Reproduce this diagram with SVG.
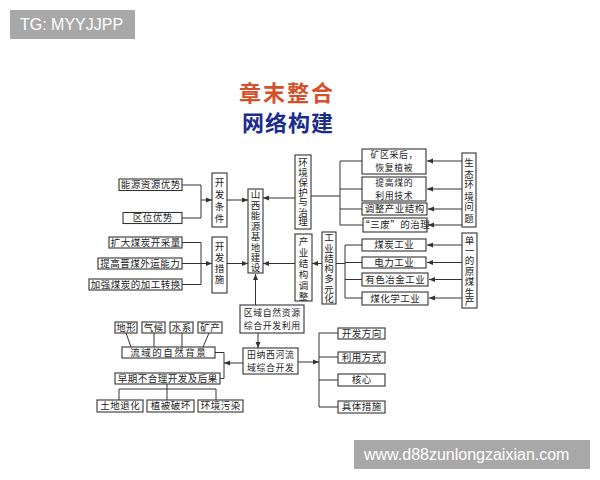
<svg xmlns="http://www.w3.org/2000/svg" width="600" height="480" viewBox="0 0 600 480">
<style>
.b{fill:#fff;stroke:#333;stroke-width:1.1}
.t{font-family:"Noto Sans CJK SC","Noto Sans",sans-serif;font-size:9.5px;fill:#222;text-anchor:middle;letter-spacing:0.5px}
.t2{font-family:"Noto Sans CJK SC","Noto Sans",sans-serif;font-size:8.9px;fill:#222;text-anchor:middle;letter-spacing:0.6px}
.v{font-family:"Noto Sans CJK SC","Noto Sans",sans-serif;font-size:9.5px;fill:#222;text-anchor:middle;writing-mode:vertical-rl}
.c{fill:none;stroke:#333;stroke-width:1}
.a{fill:none;stroke:#333;stroke-width:1;marker-end:url(#ah)}
.wm{fill:#a8a8a8}
.wt{font-family:"Liberation Sans",Arial,sans-serif;font-size:16px;fill:#fff}
</style>
<defs>
<marker id="ah" viewBox="0 0 6 6" refX="6" refY="3" markerWidth="6" markerHeight="6" orient="auto" markerUnits="userSpaceOnUse">
<path d="M0,0.5 L6,3 L0,5.5 Z" fill="#333"/>
</marker>
</defs>
<rect width="600" height="480" fill="#fff"/>
<g id="wm1"><rect class="wm" x="10" y="10" width="125" height="29"/><text class="wt" x="20" y="30">TG: MYYJJPP</text></g>
<g id="wm2"><rect class="wm" x="354" y="440" width="236" height="29"/><text class="wt" x="364" y="460">www.d88zunlongzaixian.com</text></g>
<g id="title">
<text x="287" y="101" style="font-family:'Noto Sans CJK SC',sans-serif;font-size:22px;font-weight:700;fill:#d4502a;text-anchor:middle;letter-spacing:2px">章末整合</text>
<text x="288" y="131" style="font-family:'Noto Sans CJK SC',sans-serif;font-size:22px;font-weight:700;fill:#1c2c8c;text-anchor:middle;letter-spacing:1px">网络构建</text>
</g>
<g id="connectors">
<path class="c" d="M182,185 H201 V218 H182"/>
<path class="a" d="M201,200 H212"/>
<path class="a" d="M227,200 H248"/>
<path class="c" d="M182,242.5 H201 V284.5 H182 M182,263.5 H201"/>
<path class="a" d="M201,263.5 H212"/>
<path class="a" d="M227,263.5 H248"/>
<path class="a" d="M295,198 H263"/>
<path class="a" d="M295,263.5 H263"/>
<path class="a" d="M322,263.5 H312"/>
<path class="c" d="M311,196 H340 M340,161 V225 M340,161 H362 M340,189 H362 M340,209 H362 M340,225 H363"/>
<path class="c" d="M336,263.5 H345 M345,245 V298 M345,245 H362 M345,262.5 H362 M345,279.5 H362 M345,298 H362"/>
<path class="a" d="M462,161 H427"/>
<path class="a" d="M462,189 H427"/>
<path class="a" d="M462,209 H428"/>
<path class="a" d="M462,225 H428"/>
<path class="a" d="M462,245 H427"/>
<path class="a" d="M462,262.5 H427"/>
<path class="a" d="M462,279.5 H429"/>
<path class="a" d="M462,298 H429"/>
<path class="a" d="M255.5,305 V274"/>
<path class="a" d="M258,333 V348"/>
<path class="a" d="M298,362 H319"/>
<path class="c" d="M319,333 V407 M319,333 H338 M319,357 H338 M319,380 H338 M319,407 H338"/>
<path class="a" d="M243,363 H224"/>
<path class="c" d="M215,352.5 H224 V378.5 H220"/>
<path class="c" d="M126,333 L131,347 M154,333 V347 M182,333 V347 M209,333 L203,347"/>
<path class="c" d="M167,384 V389 M119,389 H216 M119,389 V400 M167,389 V400 M216,389 V400"/>
</g>
<g id="n1"><rect class="b" x="119" y="179" width="63" height="11.5"/><text class="t" x="150.8" y="188.2">能源资源优势</text></g>
<g id="n2"><rect class="b" x="123" y="212.5" width="59" height="11"/><text class="t" x="152.8" y="221.3">区位优势</text></g>
<g id="n3"><rect class="b" x="109" y="237" width="73" height="11"/><text class="t" x="145.8" y="245.8">扩大煤炭开采量</text></g>
<g id="n4"><rect class="b" x="98" y="258" width="84" height="11"/><text class="t" x="140.3" y="266.8">提高晋煤外运能力</text></g>
<g id="n5"><rect class="b" x="89" y="279" width="93" height="11"/><text class="t" x="135.8" y="287.8">加强煤炭的加工转换</text></g>
<g id="n6"><rect class="b" x="212" y="173" width="15" height="54"/><text class="v"><tspan x="219.5" y="182">开</tspan><tspan x="219.5" y="194">发</tspan><tspan x="219.5" y="206">条</tspan><tspan x="219.5" y="218">件</tspan></text></g>
<g id="n7"><rect class="b" x="212" y="237" width="15" height="56"/><text class="v"><tspan x="219.5" y="246">开</tspan><tspan x="219.5" y="257">发</tspan><tspan x="219.5" y="268">措</tspan><tspan x="219.5" y="279">施</tspan></text></g>
<g id="n8"><rect class="b" x="248" y="189" width="15" height="84"/><text class="v"><tspan x="255.5" y="194.5">山</tspan><tspan x="255.5" y="204.9">西</tspan><tspan x="255.5" y="215.3">能</tspan><tspan x="255.5" y="225.7">源</tspan><tspan x="255.5" y="236.1">基</tspan><tspan x="255.5" y="246.5">地</tspan><tspan x="255.5" y="256.9">建</tspan><tspan x="255.5" y="267.3">设</tspan></text></g>
<g id="n9"><rect class="b" x="295" y="155" width="16" height="74"/><text class="v"><tspan x="303" y="162.5">环</tspan><tspan x="303" y="172.3">境</tspan><tspan x="303" y="182.1">保</tspan><tspan x="303" y="191.9">护</tspan><tspan x="303" y="201.7">与</tspan><tspan x="303" y="211.5">治</tspan><tspan x="303" y="221.3">理</tspan></text></g>
<g id="n10"><rect class="b" x="295" y="234" width="17" height="67"/><text class="v"><tspan x="303.5" y="241">产</tspan><tspan x="303.5" y="252">业</tspan><tspan x="303.5" y="263">结</tspan><tspan x="303.5" y="274">构</tspan><tspan x="303.5" y="285">调</tspan><tspan x="303.5" y="296">整</tspan></text></g>
<g id="n11"><rect class="b" x="322" y="232" width="14" height="72"/><text class="v"><tspan x="329" y="237.5">工</tspan><tspan x="329" y="247.7">业</tspan><tspan x="329" y="257.9">结</tspan><tspan x="329" y="268.1">构</tspan><tspan x="329" y="278.3">多</tspan><tspan x="329" y="288.5">元</tspan><tspan x="329" y="298.7">化</tspan></text></g>
<g id="n12"><rect class="b" x="362" y="149" width="64" height="25"/><text class="t2"><tspan x="394.3" y="158.2">矿区采后，</tspan><tspan x="394.3" y="171.2">恢复植被</tspan></text></g>
<g id="n13"><rect class="b" x="362" y="177" width="64" height="24"/><text class="t2"><tspan x="394.3" y="185.9">提高煤的</tspan><tspan x="394.3" y="198.9">利用技术</tspan></text></g>
<g id="n14"><rect class="b" x="362" y="203" width="65" height="12"/><text class="t" x="394.8" y="212.2">调整产业结构</text></g>
<g id="n15"><rect class="b" x="363" y="218" width="64" height="14"/><text class="t" x="395.3" y="228.3">“三废”的治理</text></g>
<g id="n16"><rect class="b" x="362" y="239" width="64" height="12"/><text class="t" x="394.3" y="248.2">煤炭工业</text></g>
<g id="n17"><rect class="b" x="362" y="257" width="64" height="11"/><text class="t" x="394.3" y="265.8">电力工业</text></g>
<g id="n18"><rect class="b" x="362" y="273" width="66" height="13"/><text class="t" x="395.3" y="282.7">有色冶金工业</text></g>
<g id="n19"><rect class="b" x="362" y="292" width="66" height="13"/><text class="t" x="395.3" y="301.7">煤化学工业</text></g>
<g id="n20"><rect class="b" x="462" y="153" width="14" height="74"/><text class="v"><tspan x="469" y="162.5">生</tspan><tspan x="469" y="173.5">态</tspan><tspan x="469" y="184.5">环</tspan><tspan x="469" y="195.5">境</tspan><tspan x="469" y="206.5">问</tspan><tspan x="469" y="217.5">题</tspan></text></g>
<g id="n21"><rect class="b" x="462" y="233" width="15" height="75"/><text class="v"><tspan x="469.5" y="240">单</tspan><tspan x="469.5" y="250.3">一</tspan><tspan x="469.5" y="260.6">的</tspan><tspan x="469.5" y="270.9">原</tspan><tspan x="469.5" y="281.2">煤</tspan><tspan x="469.5" y="291.5">生</tspan><tspan x="469.5" y="301.8">产</tspan></text></g>
<g id="n22"><rect class="b" x="240" y="305" width="64" height="28"/><text class="t2"><tspan x="272.3" y="315.6">区域自然资源</tspan><tspan x="272.3" y="328.6">综合开发利用</tspan></text></g>
<g id="n23"><rect class="b" x="243" y="348" width="55" height="26"/><text class="t2"><tspan x="270.8" y="357.6">田纳西河流</tspan><tspan x="270.8" y="370.6">域综合开发</tspan></text></g>
<g id="n24"><rect class="b" x="338" y="328" width="47" height="11"/><text class="t" x="361.8" y="336.8">开发方向</text></g>
<g id="n25"><rect class="b" x="338" y="352" width="47" height="11"/><text class="t" x="361.8" y="360.8">利用方式</text></g>
<g id="n26"><rect class="b" x="338" y="374" width="47" height="12"/><text class="t" x="361.8" y="383.3">核心</text></g>
<g id="n27"><rect class="b" x="338" y="401" width="47" height="12"/><text class="t" x="361.8" y="410.3">具体措施</text></g>
<g id="n28"><rect class="b" x="115" y="322" width="22" height="11"/><text class="t" x="126.3" y="330.8">地形</text></g>
<g id="n29"><rect class="b" x="142" y="322" width="23" height="11"/><text class="t" x="153.8" y="330.8">气候</text></g>
<g id="n30"><rect class="b" x="170" y="322" width="23" height="11"/><text class="t" x="181.8" y="330.8">水系</text></g>
<g id="n31"><rect class="b" x="198" y="322" width="24" height="11"/><text class="t" x="210.3" y="330.8">矿产</text></g>
<g id="n32"><rect class="b" x="122" y="347" width="93" height="11"/><text class="t" x="168.8" y="355.8" style="letter-spacing:1.5px">流域的自然背景</text></g>
<g id="n33"><rect class="b" x="115" y="373" width="105" height="11"/><text class="t" x="167.8" y="381.8">早期不合理开发及后果</text></g>
<g id="n34"><rect class="b" x="97" y="400" width="46" height="12"/><text class="t" x="120.3" y="409.3">土地退化</text></g>
<g id="n35"><rect class="b" x="147" y="400" width="47" height="12"/><text class="t" x="170.8" y="409.3">植被破坏</text></g>
<g id="n36"><rect class="b" x="198" y="400" width="45" height="12"/><text class="t" x="220.8" y="409.3">环境污染</text></g>
</svg>
